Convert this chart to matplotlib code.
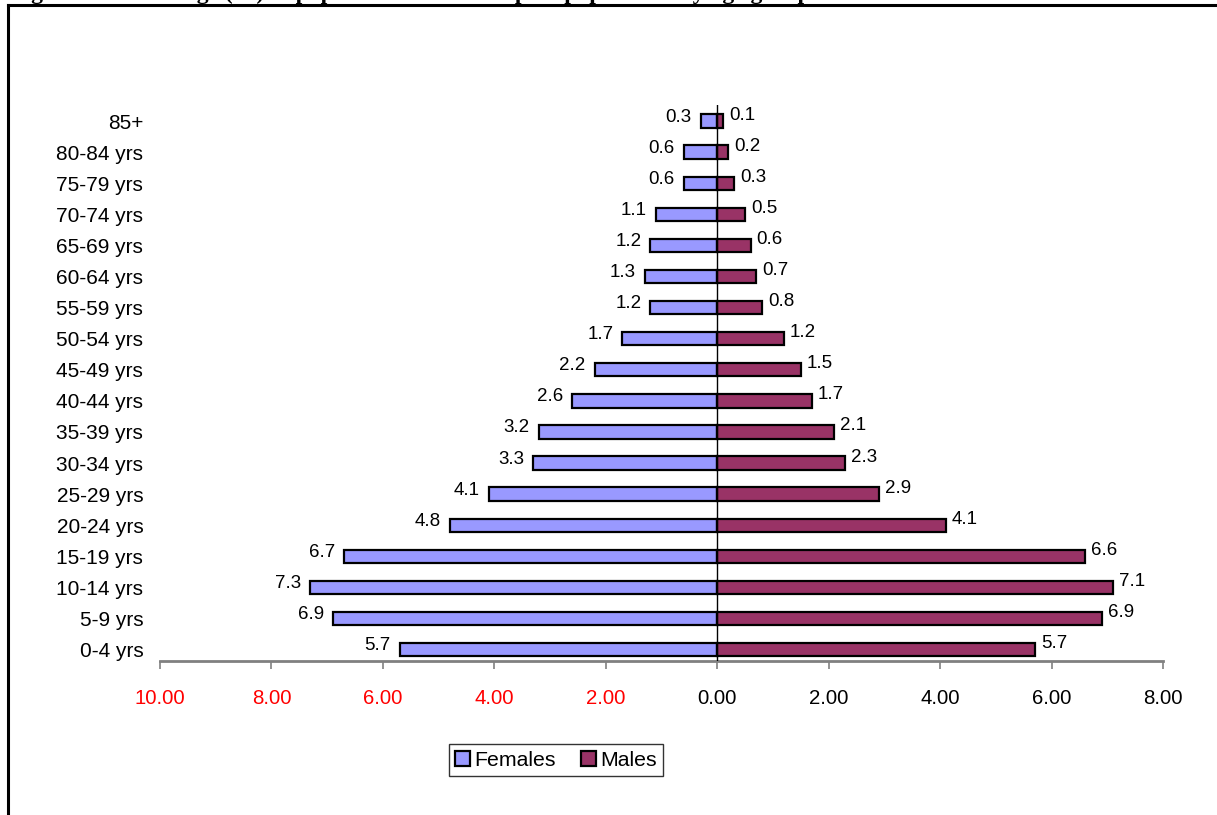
import matplotlib
matplotlib.use('Agg')
import matplotlib.pyplot as plt
from matplotlib.lines import Line2D
from matplotlib.ticker import FixedLocator, FuncFormatter

plt.rcParams.update({
    'font.family': 'sans-serif', 'font.sans-serif': ['Liberation Sans', 'DejaVu Sans'],
    'font.size': 15,
})

AGE_GROUPS = ['0-4 yrs', '5-9 yrs', '10-14 yrs', '15-19 yrs', '20-24 yrs', '25-29 yrs',
              '30-34 yrs', '35-39 yrs', '40-44 yrs', '45-49 yrs', '50-54 yrs', '55-59 yrs',
              '60-64 yrs', '65-69 yrs', '70-74 yrs', '75-79 yrs', '80-84 yrs', '85+']
FEMALES = [5.7, 6.9, 7.3, 6.7, 4.8, 4.1, 3.3, 3.2, 2.6, 2.2, 1.7, 1.2, 1.3, 1.2, 1.1, 0.6, 0.6, 0.3]
MALES = [5.7, 6.9, 7.1, 6.6, 4.1, 2.9, 2.3, 2.1, 1.7, 1.5, 1.2, 0.8, 0.7, 0.6, 0.5, 0.3, 0.2, 0.1]
X_TICKS = [-10, -8, -6, -4, -2, 0, 2, 4, 6, 8]

FEMALE_COLOR = '#9999FF'
MALE_COLOR = '#993366'

W, H = 1217, 815
fig = plt.figure(figsize=(W / 100, H / 100), dpi=100)

# outer frame (only the top and left edges fall inside the page)
fig.add_artist(Line2D([8 / W, 1.0], [1 - 5 / H, 1 - 5 / H], color='black', lw=2.2,
                      transform=fig.transFigure))
fig.add_artist(Line2D([8 / W, 8 / W], [0, 1 - 5 / H], color='black', lw=2.2,
                      transform=fig.transFigure))

fig.text(10 / W, 1 + 1 / H,
         'Figure 3: Percentage (%) of population of the sampled population by age group',
         family='Liberation Serif', fontweight='bold', fontsize=17, va='baseline', ha='left')

ax = fig.add_axes([160 / W, 0.1885, 1003 / W, 0.6821])
y = list(range(len(AGE_GROUPS)))
ax.barh(y, [-v for v in FEMALES], height=0.43, color=FEMALE_COLOR, edgecolor='black',
        linewidth=1.6, label='Females', zorder=2)
ax.barh(y, MALES, height=0.43, color=MALE_COLOR, edgecolor='black',
        linewidth=1.6, label='Males', zorder=2)
ax.axvline(0, color='black', lw=1, zorder=3)

for i in y:
    ax.annotate(f'{FEMALES[i]:.1f}', (-FEMALES[i], i), xytext=(-9, 4),
                textcoords='offset pixels', ha='right', va='center', fontsize=13.5)
    ax.annotate(f'{MALES[i]:.1f}', (MALES[i], i), xytext=(6, 6),
                textcoords='offset pixels', ha='left', va='center', fontsize=13.5)

ax.set_xlim(-10, 8)
ax.set_ylim(-0.38, 17.5)
ax.xaxis.set_major_locator(FixedLocator(X_TICKS))
ax.xaxis.set_major_formatter(FuncFormatter(lambda v, p: f'{abs(v):.2f}'))
for lbl, v in zip(ax.get_xticklabels(), X_TICKS):
    lbl.set_color('red' if v < 0 else 'black')
ax.tick_params(axis='x', direction='out', length=6, width=1.2, color='#808080',
               pad=14, labelsize=14.7)
ax.set_yticks(y)
ax.set_yticklabels(AGE_GROUPS)
ax.tick_params(axis='y', length=0, pad=12, labelsize=15)

for s in ('top', 'right', 'left'):
    ax.spines[s].set_visible(False)
ax.spines['bottom'].set_color('#808080')
ax.spines['bottom'].set_linewidth(2)

leg = fig.legend(loc='center', bbox_to_anchor=(556 / W, 1 - 760 / H), ncol=2,
                 fontsize=15.3, frameon=True, fancybox=False, handlelength=0.7,
                 handleheight=0.7, handletextpad=0.2, columnspacing=1.2,
                 borderpad=0.3, borderaxespad=0)
leg.get_frame().set_edgecolor('black')
leg.get_frame().set_linewidth(1)

fig.savefig('out.png', dpi=100, facecolor='white')
